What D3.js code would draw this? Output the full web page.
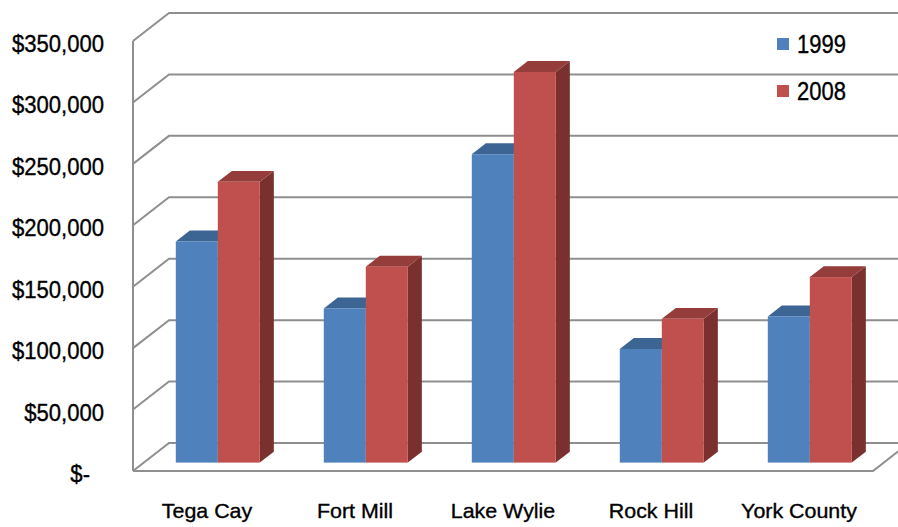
<!DOCTYPE html>
<html>
<head>
<meta charset="utf-8">
<script src="https://cdn.jsdelivr.net/npm/d3@7"></script>
<style>
  html, body { margin: 0; padding: 0; background: #ffffff; }
  svg { display: block; }
  text { font-family: "Liberation Sans", Arial, sans-serif; fill: #000; stroke: #000; stroke-width: 0.35px; }
</style>
</head>
<body>
<svg id="chart" width="898" height="527"></svg>
<script>
// ---- data ----
const categories = ["Tega Cay", "Fort Mill", "Lake Wylie", "Rock Hill", "York County"];
const seriesNames = ["1999", "2008"];
const values1999 = [180000, 125500, 251000, 92500, 119000];
const values2008 = [228500, 159500, 318000, 117000, 151000];
const tickValues = [0, 50000, 100000, 150000, 200000, 250000, 300000, 350000];
const tickLabels = ["$-", "$50,000", "$100,000", "$150,000", "$200,000", "$250,000", "$300,000", "$350,000"];
const seriesColors = [
  { front: "#4F81BD", top: "#3C6594", side: "#33567F" },
  { front: "#C0504D", top: "#943D3B", side: "#7A302F" }
];

// ---- layout ----
const W = 898, H = 527;
const plotLeft = 133, plotRight = 873;
const yFront0 = 471, yFrontTop = 41;
const DX = 36, DY = 28;          // full depth offset of the 3D box
const f0 = 0.30, f1 = 0.69;      // depth range occupied by bars

const svg = d3.select("#chart");

const y = d3.scaleLinear().domain([0, 350000]).range([yFront0, yFrontTop]);
const x0 = d3.scaleBand().domain(categories).range([plotLeft, plotRight]).paddingInner(0).paddingOuter(0);
const groupW = x0.bandwidth() * 84 / 148;
const x1 = d3.scaleBand().domain(seriesNames).range([0, groupW]).padding(0);

const gridColor = "#8f8f8f";
const g = svg.append("g");

// back wall gridlines with left-wall diagonals
tickValues.forEach(t => {
  const yf = y(t);
  g.append("path")
    .attr("d", `M${plotLeft},${yf} L${plotLeft + DX},${yf - DY} L${W + 20},${yf - DY}`)
    .attr("fill", "none").attr("stroke", gridColor).attr("stroke-width", 2);
});
// front vertical edge of left wall
g.append("line")
  .attr("x1", plotLeft).attr("x2", plotLeft)
  .attr("y1", y(350000)).attr("y2", y(0))
  .attr("stroke", gridColor).attr("stroke-width", 2);
// floor front edge and right diagonal
g.append("path")
  .attr("d", `M${plotLeft},${y(0)} L${plotRight},${y(0)} L${plotRight + DX},${y(0) - DY}`)
  .attr("fill", "none").attr("stroke", gridColor).attr("stroke-width", 2);

// ---- bars ----
const series = [values1999, values2008];
categories.forEach((cat, ci) => {
  seriesNames.forEach((s, si) => {
    const v = series[si][ci];
    const col = seriesColors[si];
    const bx = x0(cat) + (x0.bandwidth() - groupW) / 2 + x1(s) + f0 * DX;
    const bw = x1.bandwidth();
    const yt = y(v) - f0 * DY;
    const yb = y(0) - f0 * DY;
    const ddx = (f1 - f0) * DX, ddy = (f1 - f0) * DY;
    const bar = g.append("g");
    // side
    bar.append("path")
      .attr("d", `M${bx + bw},${yt} L${bx + bw + ddx},${yt - ddy} L${bx + bw + ddx},${yb - ddy} L${bx + bw},${yb} Z`)
      .attr("fill", col.side);
    // top
    bar.append("path")
      .attr("d", `M${bx},${yt} L${bx + ddx},${yt - ddy} L${bx + bw + ddx},${yt - ddy} L${bx + bw},${yt} Z`)
      .attr("fill", col.top);
    // front
    bar.append("rect")
      .attr("x", bx).attr("y", yt).attr("width", bw).attr("height", yb - yt)
      .attr("fill", col.front);
  });
});

// ---- y tick labels ----
tickValues.forEach((t, i) => {
  const lbl = tickLabels[i];
  const xr = lbl === "$-" ? 90 : 104;
  svg.append("text")
    .attr("transform", `translate(${xr},${y(t) + 11}) scale(0.96,1)`)
    .attr("text-anchor", "end")
    .style("font-size", "23px")
    .text(lbl);
});

// ---- category labels ----
categories.forEach(cat => {
  svg.append("text")
    .attr("transform", `translate(${x0(cat) + x0.bandwidth() / 2},518) scale(1.02,1)`)
    .attr("text-anchor", "middle")
    .style("font-size", "21px")
    .text(cat);
});

// ---- legend ----
seriesNames.forEach((s, i) => {
  const ly = 38 + i * 47;
  svg.append("rect").attr("x", 777).attr("y", ly).attr("width", 12).attr("height", 12)
    .attr("fill", seriesColors[i].front);
  svg.append("text")
    .attr("transform", `translate(797,${ly + 15}) scale(0.88,1)`)
    .style("font-size", "25px")
    .text(s);
});
</script>
</body>
</html>
